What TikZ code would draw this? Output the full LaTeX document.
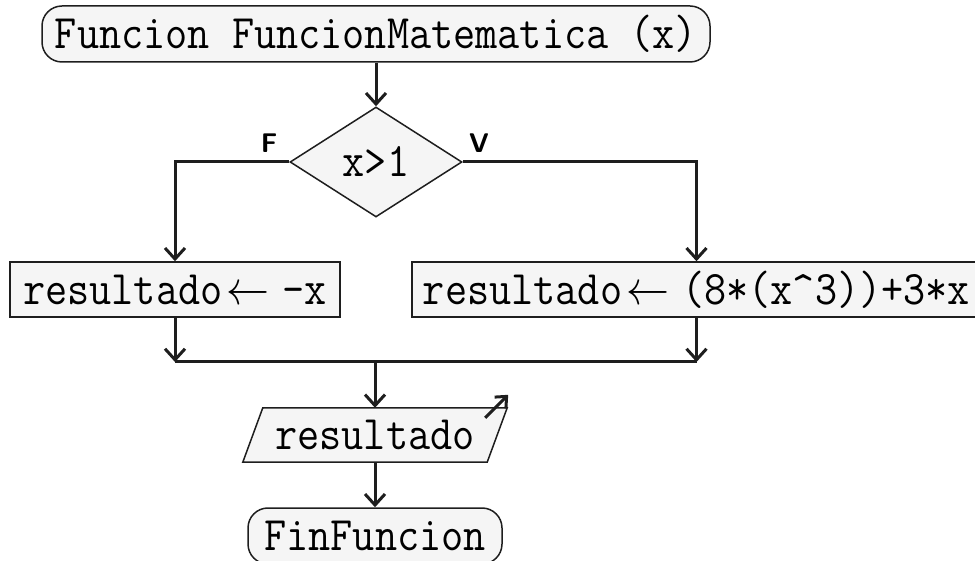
\documentclass[tikz,border=0pt]{standalone}
\usepackage{fix-cm}
\usepackage{fontspec}
\usetikzlibrary{shapes.geometric,arrows.meta,calc,backgrounds}
\definecolor{boxfill}{RGB}{245,245,245}
\definecolor{linec}{RGB}{30,30,30}
\newcommand{\monotxt}[1]{\scalebox{1}[1.12]{\fontsize{43}{46}\selectfont\ttfamily #1}}
\newcommand{\larr}{\hspace{4pt}$\leftarrow$\hspace{13pt}}
\begin{document}
\begin{tikzpicture}[x=1pt,y=-1pt,
  shapeline/.style={draw=linec, fill=boxfill, line width=1.5pt},
  term/.style={shapeline, rounded corners=20pt, inner sep=0pt, minimum height=56pt},
  proc/.style={shapeline, inner sep=0pt, minimum height=55pt},
  decis/.style={shapeline, diamond, inner sep=0pt, minimum width=172pt, minimum height=110pt},
  iobox/.style={inner sep=0pt, minimum width=264pt, minimum height=54pt},
  conn/.style={draw=linec, line width=3pt},
  arr/.style={conn, -{Straight Barb[length=11pt,width=20pt]}},
  lbl/.style={font=\sffamily\bfseries\fontsize{27}{30}\selectfont, inner sep=0pt}
]
\useasboundingbox (0,0) rectangle (975,561);

\node[term, minimum width=668pt] (start) at (376,34) {\monotxt{Funcion FuncionMatematica (x)}};
\node[decis] (dec) at (376,162) {\monotxt{x>1}};
\node[proc, minimum width=330pt] (left) at (175,289.5) {\monotxt{resultado\larr-x}};
\node[proc, minimum width=569pt] (right) at (696.5,289.5) {\monotxt{resultado\larr(8*(x\textasciicircum3))+3*x}};
\node[iobox] (out) at (375,435) {\monotxt{resultado}};
\begin{scope}[on background layer]
  \draw[shapeline] (out.south west) -- ($(out.north west)+(20,0)$) -- (out.north east) -- ($(out.south east)+(-20,0)$) -- cycle;
\end{scope}
\node[term, minimum width=254pt] (end) at (375,536) {\monotxt{FinFuncion}};

\node[lbl] (lf) at (269,143) {F};
\node[lbl] (lv) at (479,143) {V};

\coordinate (ml) at (175,362);
\coordinate (mr) at (696.5,362);
\coordinate (mc) at (375,362);
\coordinate (os) at ($(out.north east)+(-22,10)$);
\coordinate (oe) at ($(out.north east)+(1,-13)$);

\draw[arr] (start.south) -- (dec.north);
\draw[arr] (dec.west) -| (left.north);
\draw[arr] (dec.east) -| (right.north);
\draw[arr] (left.south) -- (ml);
\draw[arr] (right.south) -- (mr);
\draw[conn] (ml) -- (mr);
\draw[arr] (mc) -- (out.north);
\draw[arr] (out.south) -- (end.north);
\draw[conn, -{Straight Barb[length=9pt,width=16pt]}] (os) -- (oe);
\end{tikzpicture}
\end{document}
